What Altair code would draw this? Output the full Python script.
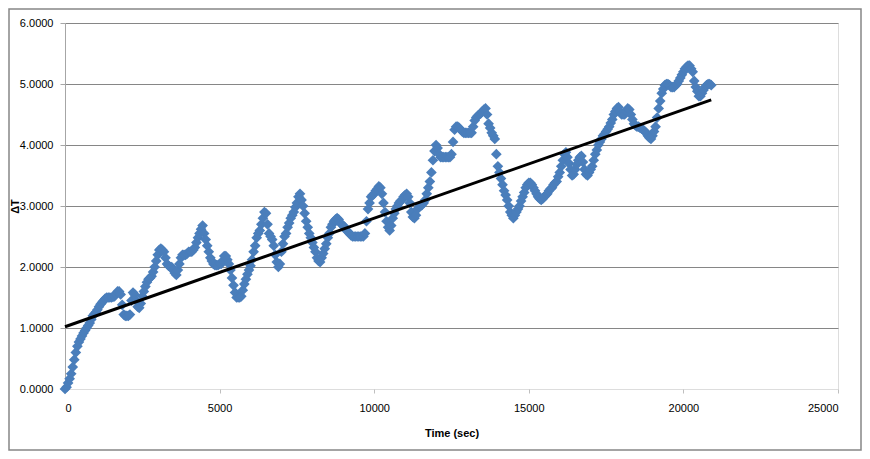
import altair as alt
import pandas as pd

# Sampling interval of the recorded series (seconds)
TIME_STEP = 50

# Temperature difference, one value every TIME_STEP seconds
DELTA_T = [
    0.00, 0.03, 0.10, 0.17, 0.25, 0.36, 0.48, 0.60, 0.70, 0.77,
    0.82, 0.87, 0.92, 0.96, 1.00, 1.04, 1.08, 1.14, 1.20, 1.23,
    1.26, 1.30, 1.35, 1.39, 1.42, 1.45, 1.48, 1.50, 1.50, 1.50,
    1.50, 1.51, 1.52, 1.56, 1.60, 1.60, 1.55, 1.38, 1.22, 1.20,
    1.20, 1.20, 1.22, 1.45, 1.58, 1.55, 1.45, 1.35, 1.33, 1.40,
    1.52, 1.60, 1.68, 1.75, 1.80, 1.82, 1.85, 1.92, 2.00, 2.10,
    2.20, 2.28, 2.30, 2.28, 2.25, 2.15, 2.05, 2.02, 2.00, 2.00,
    1.95, 1.90, 1.87, 1.95, 2.05, 2.15, 2.20, 2.20, 2.20, 2.22,
    2.25, 2.25, 2.25, 2.28, 2.32, 2.40, 2.48, 2.55, 2.62, 2.68,
    2.55, 2.45, 2.35, 2.25, 2.15, 2.10, 2.05, 2.03, 2.03, 2.03,
    2.05, 2.05, 2.10, 2.18, 2.18, 2.12, 2.05, 1.95, 1.82, 1.70,
    1.58, 1.50, 1.50, 1.50, 1.52, 1.62, 1.72, 1.80, 1.88, 1.95,
    2.02, 2.12, 2.25, 2.35, 2.48, 2.55, 2.60, 2.70, 2.80, 2.90,
    2.88, 2.70, 2.55, 2.50, 2.45, 2.35, 2.20, 2.08, 2.00, 2.05,
    2.25, 2.38, 2.50, 2.55, 2.65, 2.72, 2.80, 2.85, 2.90, 2.98,
    3.05, 3.15, 3.20, 3.10, 3.00, 2.88, 2.75, 2.65, 2.55, 2.48,
    2.40, 2.32, 2.25, 2.15, 2.10, 2.08, 2.15, 2.22, 2.30, 2.38,
    2.48, 2.55, 2.65, 2.70, 2.75, 2.78, 2.80, 2.78, 2.72, 2.70,
    2.68, 2.65, 2.60, 2.58, 2.55, 2.52, 2.50, 2.50, 2.50, 2.50,
    2.50, 2.50, 2.50, 2.50, 2.55, 2.75, 2.95, 3.05, 3.15, 3.18,
    3.20, 3.25, 3.28, 3.32, 3.30, 3.20, 3.05, 2.90, 2.75, 2.65,
    2.60, 2.68, 2.80, 2.88, 2.95, 3.00, 3.05, 3.08, 3.10, 3.15,
    3.18, 3.20, 3.15, 3.05, 2.90, 2.82, 2.80, 2.85, 2.95, 2.98,
    3.00, 3.02, 3.05, 3.10, 3.20, 3.30, 3.40, 3.55, 3.75, 3.90,
    4.00, 3.95, 3.85, 3.80, 3.80, 3.80, 3.80, 3.80, 3.80, 3.80,
    3.85, 4.05, 4.25, 4.30, 4.30, 4.28, 4.25, 4.22, 4.20, 4.20,
    4.20, 4.20, 4.20, 4.20, 4.30, 4.40, 4.45, 4.48, 4.50, 4.52,
    4.55, 4.58, 4.60, 4.50, 4.35, 4.28, 4.20, 4.15, 4.10, 3.85,
    3.65, 3.55, 3.45, 3.35, 3.25, 3.18, 3.10, 3.00, 2.90, 2.85,
    2.80, 2.85, 2.90, 2.95, 3.00, 3.08, 3.15, 3.22, 3.30, 3.35,
    3.38, 3.38, 3.35, 3.30, 3.25, 3.20, 3.15, 3.12, 3.10, 3.12,
    3.15, 3.18, 3.20, 3.25, 3.28, 3.30, 3.35, 3.38, 3.40, 3.48,
    3.55, 3.65, 3.75, 3.85, 3.88, 3.80, 3.70, 3.60, 3.50, 3.52,
    3.60, 3.68, 3.75, 3.80, 3.82, 3.72, 3.60, 3.52, 3.50, 3.55,
    3.60, 3.65, 3.75, 3.85, 3.92, 4.00, 4.05, 4.10, 4.15, 4.18,
    4.22, 4.26, 4.30, 4.36, 4.42, 4.50, 4.55, 4.60, 4.62, 4.55,
    4.50, 4.50, 4.50, 4.55, 4.60, 4.58, 4.50, 4.42, 4.35, 4.32,
    4.30, 4.30, 4.28, 4.27, 4.25, 4.22, 4.20, 4.15, 4.12, 4.10,
    4.15, 4.22, 4.30, 4.45, 4.60, 4.72, 4.85, 4.92, 4.98, 5.00,
    5.00, 4.98, 4.95, 4.95, 4.95, 4.98, 5.00, 5.05, 5.10, 5.15,
    5.20, 5.25, 5.28, 5.30, 5.30, 5.25, 5.20, 5.05, 4.95, 4.88,
    4.80, 4.80, 4.85, 4.90, 4.95, 4.98, 5.00, 5.00, 4.98,
]
TIME = [i * TIME_STEP for i in range(len(DELTA_T))]

# Linear trend line end points
TREND_TIME = [0, 20900]
TREND_DT = [1.02, 4.74]

X_TICKS = [0, 5000, 10000, 15000, 20000, 25000]
Y_TICKS = [0, 1, 2, 3, 4, 5, 6]

FONT = "Liberation Sans"

df = pd.DataFrame({"t": TIME, "dT": DELTA_T})
trend = pd.DataFrame({"t": TREND_TIME, "dT": TREND_DT})

x_enc = alt.X(
    "t:Q",
    scale=alt.Scale(domain=[0, 25000], nice=False, zero=False),
    axis=alt.Axis(
        values=X_TICKS,
        format="d",
        title="Time (sec)",
        grid=False,
        domain=False,
        tickColor="#BFBFBF",
        tickSize=4,
        labelPadding=9,
        labelFont=FONT,
        labelFontSize=11,
        labelColor="#000000",
        titleFont=FONT,
        titleFontSize=11,
        titleFontWeight="bold",
        titleColor="#000000",
        titleY=44,
        titleBaseline="middle",
    ),
)
y_enc = alt.Y(
    "dT:Q",
    scale=alt.Scale(domain=[0, 6], nice=False),
    axis=alt.Axis(
        values=Y_TICKS,
        format=".4f",
        title="ΔT",
        grid=True,
        gridColor="#868686",
        gridWidth=1,
        gridOpacity={"condition": {"test": "datum.value === 0", "value": 0}, "value": 1},
        domainColor="#A6A6A6",
        tickColor="#A6A6A6",
        tickSize=5,
        labelPadding=7,
        labelFont=FONT,
        labelFontSize=11,
        labelColor="#000000",
        titleFont=FONT,
        titleFontSize=11,
        titleFontWeight="bold",
        titleColor="#000000",
        titleAngle=270,
        titleX=-50,
        titleY=183,
        titleBaseline="middle",
        titleAlign="center",
    ),
)

frame = alt.Chart(pd.DataFrame({"a": [0]})).mark_rect(
    fillOpacity=0, stroke="#868686", strokeWidth=1.5
).encode(
    x=alt.value(-56), x2=alt.value(796), y=alt.value(-14), y2=alt.value(427)
)

points = alt.Chart(df).mark_point(
    shape="diamond", filled=True, size=115, color="#4A7EBB", opacity=1
).encode(x=x_enc, y=y_enc)

line = alt.Chart(trend).mark_line(color="#000000", strokeWidth=3).encode(
    x="t:Q", y="dT:Q"
)

chart = (
    alt.layer(frame, points, line)
    .properties(
        width=773,
        height=366,
        autosize=alt.AutoSizeParams(type="none"),
        padding={"left": 57, "top": 15, "right": 24, "bottom": 62},
    )
    .configure_view(stroke="transparent")
    .configure(background="#FFFFFF")
)

chart.save("out.html", embed_options={"renderer": "svg", "actions": False})
